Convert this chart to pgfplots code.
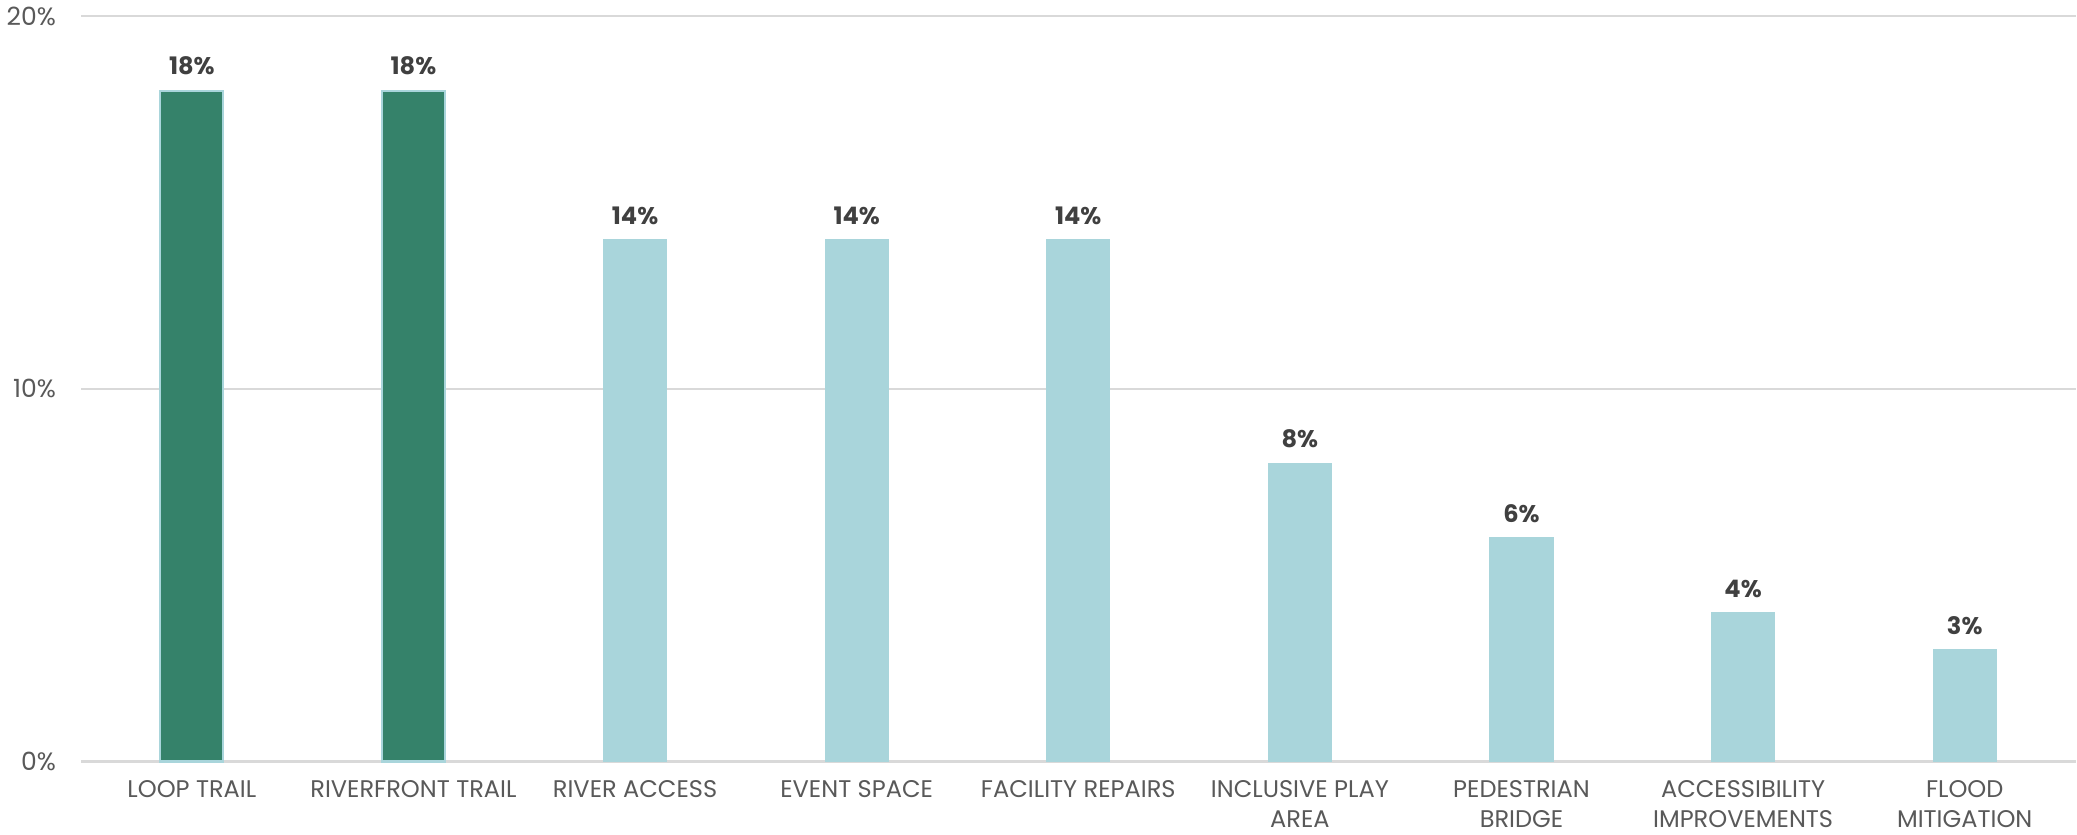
\documentclass[border=0pt]{standalone}
\usepackage{pgfplots}
\pgfplotsset{compat=1.18}
\usepackage{fontspec}
\setmainfont{Poppins}

\definecolor{trailgreen}{HTML}{35826A}
\definecolor{lightteal}{HTML}{A9D5DB}
\definecolor{gridgray}{HTML}{D9D9D9}
\definecolor{ticktext}{HTML}{595959}
\definecolor{valtext}{HTML}{404040}

\begin{document}
\begin{tikzpicture}
\begin{axis}[
    scale only axis,
    width=994pt, height=371.5pt,
    xmin=-0.5, xmax=8.5,
    ymin=0, ymax=20,
    ytick={0,10,20},
    yticklabel={\pgfmathprintnumber{\tick}\%},
    /pgf/number format/assume math mode=true,
    xtick={0,...,8},
    xticklabels={{LOOP TRAIL},{RIVERFRONT TRAIL},{RIVER ACCESS},{EVENT SPACE},{FACILITY REPAIRS},{INCLUSIVE PLAY\\AREA},{PEDESTRIAN\\BRIDGE},{ACCESSIBILITY\\IMPROVEMENTS},{FLOOD\\MITIGATION}},
    xticklabel style={align=center, font=\fontsize{12}{15}\selectfont, text=ticktext, yshift=-6pt},
    yticklabel style={font=\fontsize{12.5}{15}\selectfont, text=ticktext, xshift=-9pt},
    major tick length=0pt,
    ymajorgrids=true,
    grid style={gridgray, line width=1pt},
    axis x line*=bottom,
    axis y line*=left,
    y axis line style={draw=none},
    x axis line style={gridgray, line width=1.5pt, -},
    ybar,
    bar width=31.5pt,
    bar shift=0pt,
    nodes near coords={\pgfmathprintnumber{\pgfplotspointmeta}\%},
    nodes near coords style={font=\fontsize{12}{14}\bfseries, text=valtext, yshift=4pt},
    clip=false,
]
\addplot[fill=trailgreen, draw=lightteal, line width=1pt] coordinates {(0,18) (1,18)};
\addplot[fill=lightteal, draw=lightteal] coordinates {(2,14) (3,14) (4,14) (5,8) (6,6) (7,4) (8,3)};
\end{axis}
\end{tikzpicture}
\end{document}
